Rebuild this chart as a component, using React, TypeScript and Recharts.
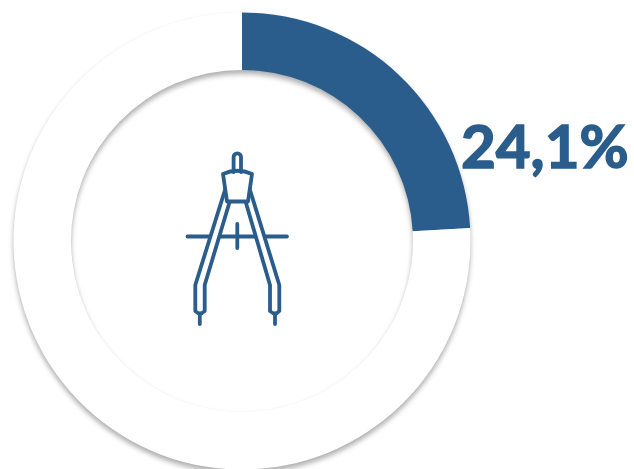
import React from 'react';
import { Cell, Pie, PieChart } from 'recharts';

const segmentNames = ['Share', 'Rest'];
const segmentValues = [24.1, 75.9];
const segmentColors = ['#2A5D8C', '#FFFFFF'];
const valueLabel = '24,1%';

const BLUE = '#2A5D8C';

const data = segmentNames.map((name, i) => ({ name, value: segmentValues[i] }));

const CompassIcon = () => (
	<g fill="none" stroke={BLUE} strokeWidth={3.8} strokeLinecap="round" strokeLinejoin="round">
		<path d="M233.6 172 V157 a3.7 3.7 0 0 1 7.4 0 V172" />
		<path d="M223 174 Q237.3 167.5 252 174 L248 201.5 H227 Z" />
		<path d="M225 190 L195.3 285 V311 Q200 316 204.7 311 V285 L229.3 203" />
		<path d="M250 190 L279.3 285 V311 Q275 316 270 311 V285 L246 203" />
		<path d="M199.8 315 V324 M275 315 V324" />
		<path d="M187.5 236.5 H210 M220 236.5 H255 M265 236.5 H287" />
		<path d="M237.3 224 V248" />
	</g>
);

const App = () => {
	return (
		<div style={{ position: 'absolute', left: 0, top: 0, width: 634, height: 469, overflow: 'hidden' }}>
			<div
				style={{
					position: 'absolute',
					left: 0,
					top: 0,
					filter: 'drop-shadow(0 0 1px rgba(0,0,0,0.05)) drop-shadow(0 4px 2.5px rgba(0,0,0,0.3))',
				}}
			>
				<PieChart width={634} height={469} margin={{ top: 0, right: 0, bottom: 0, left: 0 }}>
					<Pie
						data={data}
						dataKey="value"
						nameKey="name"
						cx={242}
						cy={241}
						innerRadius={171}
						outerRadius={228.5}
						startAngle={90}
						endAngle={-270}
						stroke="none"
						isAnimationActive={false}
					>
						{data.map((d, i) => (
							<Cell key={d.name} fill={segmentColors[i]} />
						))}
					</Pie>
				</PieChart>
			</div>
			<svg width={634} height={469} style={{ position: 'absolute', left: 0, top: 0 }}>
				<CompassIcon />
				<text
					x={461}
					y={168}
					fill={BLUE}
					stroke={BLUE}
					strokeWidth={1.6}
					fontFamily="Lato, 'Open Sans', sans-serif"
					fontWeight={700}
					fontSize={60}
				>
					{valueLabel}
				</text>
			</svg>
		</div>
	);
};

export default App;
